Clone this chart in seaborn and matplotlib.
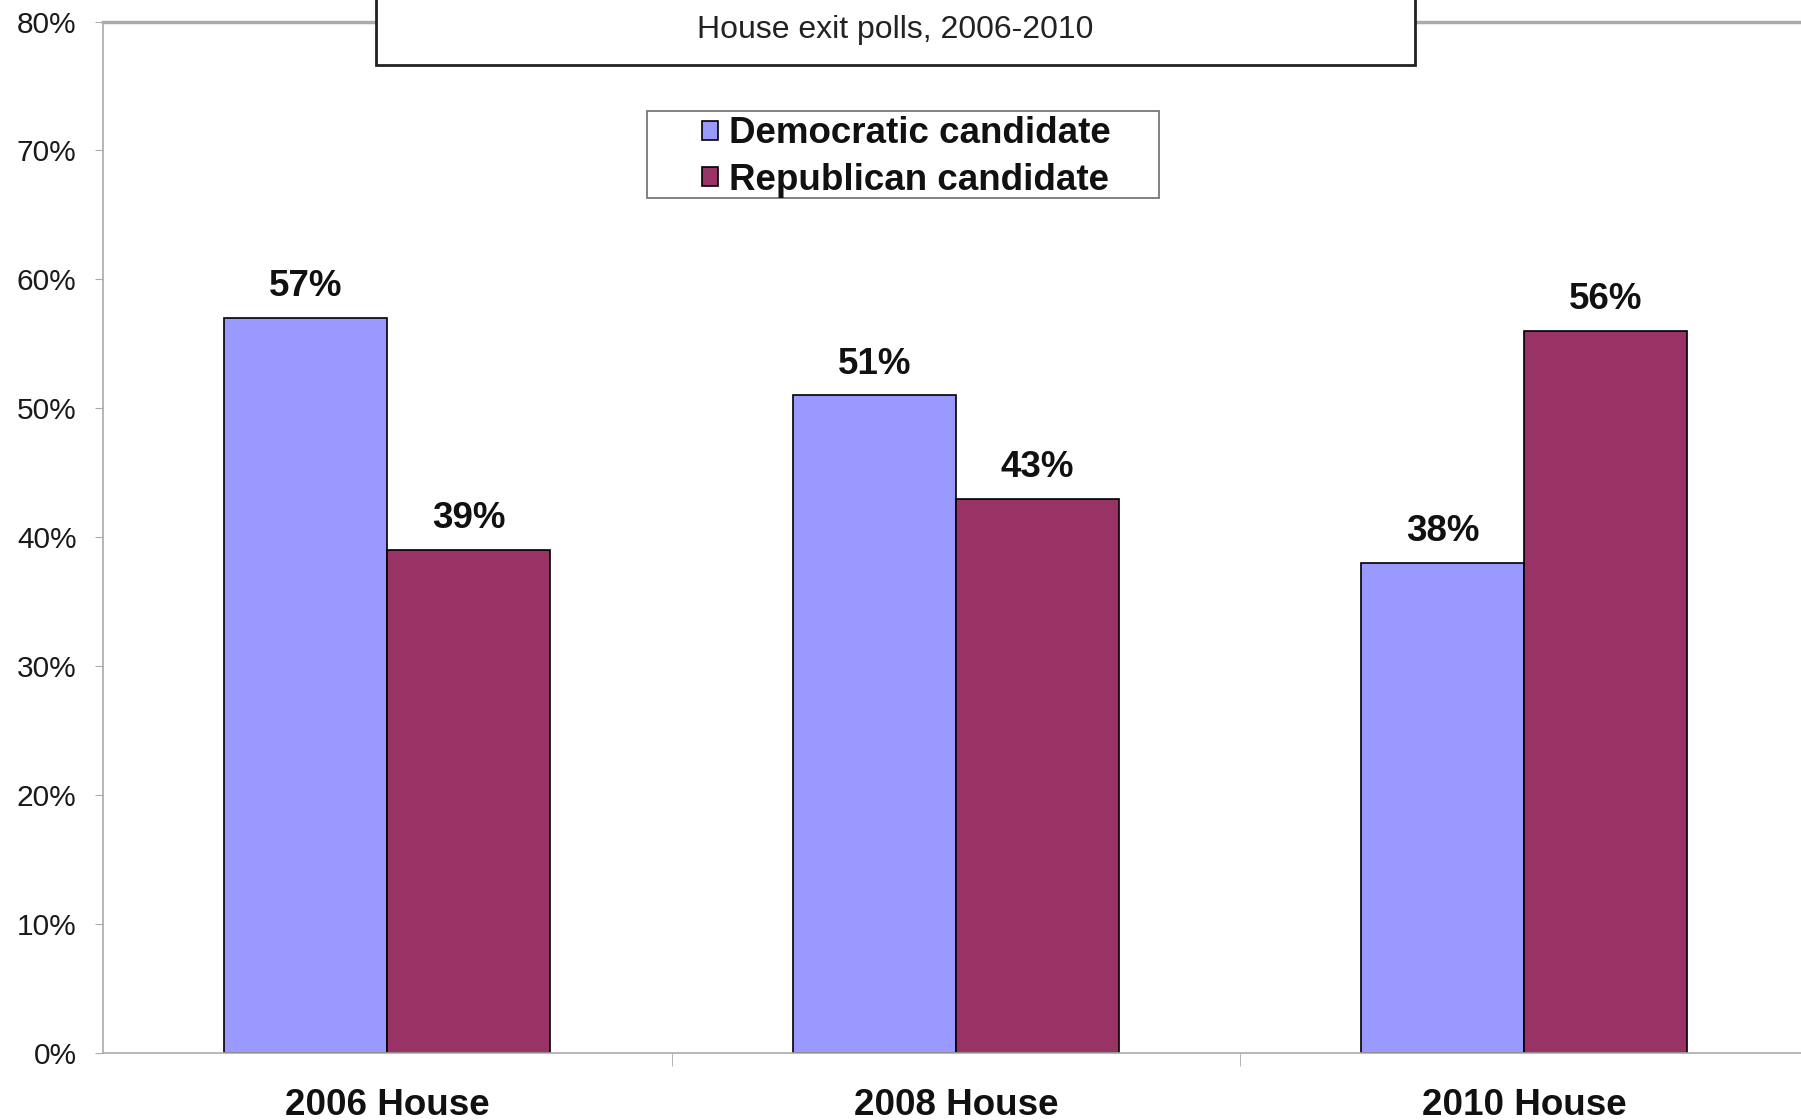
import pandas as pd
import seaborn as sns
import matplotlib.pyplot as plt
from matplotlib.patches import Rectangle

elections = ['2006 House', '2008 House', '2010 House']
dem_share = [57, 51, 38]
rep_share = [39, 43, 56]
series = ['Democratic candidate', 'Republican candidate']
colors = ['#9999FF', '#993366']
yticks = [0, 10, 20, 30, 40, 50, 60, 70, 80]

df = pd.DataFrame({
    'election': elections * 2,
    'share': dem_share + rep_share,
    'party': [series[0]] * 3 + [series[1]] * 3,
})

sns.set_style('white')
plt.rcParams['font.family'] = ['Liberation Sans', 'DejaVu Sans']

fig = plt.figure(figsize=(18.01, 11.2), dpi=100)
ax = fig.add_axes([0.0572, 0.0598, 0.947, 0.921])

sns.barplot(data=df, x='election', y='share', hue='party', palette=colors,
            width=0.574, edgecolor='black', linewidth=1.2, saturation=1,
            ax=ax, legend=True)

for cont in ax.containers:
    ax.bar_label(cont, labels=[f'{v:.0f}%' for v in cont.datavalues],
                 padding=10, fontsize=26.5, fontweight='bold', color='#111111')

ax.set_ylim(0, 80)
ax.set_xlim(-0.5, 2.5)
ax.set_yticks(yticks)
ax.set_yticklabels([f'{v}%' for v in yticks])
ax.set_xlabel('')
ax.set_ylabel('')

ax.tick_params(axis='y', left=True, length=6, color='#aaaaaa', pad=13,
               labelsize=21.5, labelcolor='#1a1a1a')
ax.tick_params(axis='x', which='major', length=0, pad=25, labelsize=26.5,
               labelcolor='#111111')
for lbl in ax.get_xticklabels():
    lbl.set_fontweight('bold')
ax.set_xticks([0.5, 1.5], minor=True)
ax.tick_params(axis='x', which='minor', bottom=True, length=9, color='#aaaaaa')

for side in ['left', 'bottom', 'top']:
    ax.spines[side].set_color('#aaaaaa')
    ax.spines[side].set_linewidth(1.2)
ax.spines['top'].set_linewidth(2.5)
ax.spines['right'].set_visible(False)

handles, labels = ax.get_legend_handles_labels()
ax.get_legend().remove()
fig.patches.append(Rectangle((0.359, 0.8236), 0.2845, 0.0769, transform=fig.transFigure,
                             facecolor='white', edgecolor='#777777', linewidth=1.3,
                             zorder=4))
leg = fig.legend(handles, labels, loc='upper left', bbox_to_anchor=(0.39, 0.896),
                 frameon=False, prop={'weight': 'bold', 'size': 26.5},
                 handlelength=0.42, handleheight=0.42, handletextpad=0.3,
                 labelspacing=0.3, borderpad=0, borderaxespad=0)
leg.set_zorder(5)
for t in leg.get_texts():
    t.set_color('#111111')

# title box (cropped at the top of the slide)
fig.patches.append(Rectangle((0.2088, 0.942), 0.5769, 0.1, transform=fig.transFigure,
                             facecolor='white', edgecolor='#222222', linewidth=2,
                             zorder=5))
fig.text(0.497, 0.973, 'House exit polls, 2006-2010', ha='center', va='center',
         fontsize=23, color='#222222', zorder=6)

fig.savefig('out.png', dpi=100)
